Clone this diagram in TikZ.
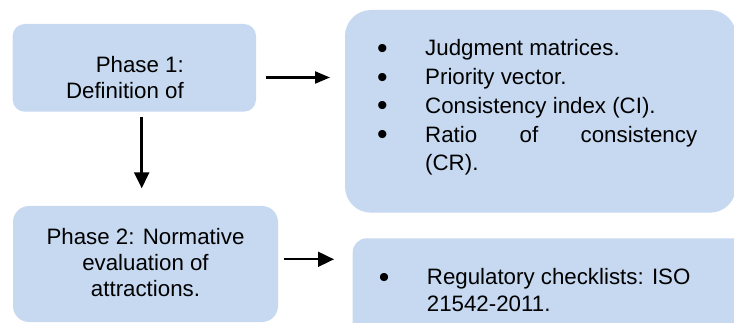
\documentclass[tikz,border=0pt]{standalone}
\usepackage{xcolor}
\usepackage{fontspec}
\usepackage{tikz}
\usetikzlibrary{arrows.meta}
\setmainfont{Liberation Sans}

\definecolor{azulclaro}{RGB}{198,217,241}
\newcommand{\marcador}{\makebox[0pt]{\raisebox{-2.6pt}{\scalebox{1.35}{\textbullet}}}\hspace{42.7pt}}

\begin{document}
\begin{tikzpicture}[x=1pt, y=-1pt,
    caixa/.style={fill=azulclaro, draw=none, inner sep=0pt},
    texto/.style={inner sep=0pt, font=\fontsize{22.3}{26.3}\selectfont},
    seta/.style={-{Triangle[length=15pt,width=12pt]}, line width=2.2pt}]

    % Area do desenho
    \clip (0,0) rectangle (734,323);

    % Caixas das fases
    \node[caixa, minimum width=243.3pt, minimum height=87.7pt, rounded corners=12pt] (fase1) at (134.35,67.85) {};
    \node[caixa, minimum width=265pt, minimum height=116pt, rounded corners=16pt] (fase2) at (145.5,264) {};

    % Caixas dos resultados
    \node[caixa, minimum width=391pt, minimum height=202.7pt, rounded corners=26pt] (saida1) at (540.5,111.35) {};
    \node[caixa, minimum width=407.3pt, minimum height=101.7pt, rounded corners=14pt] (saida2) at (556.35,289.15) {};

    % Textos das fases
    \node[texto, anchor=base east] (fase1txt) at (184,72.3)
        {\begin{tabular}[t]{@{}r@{}}Phase 1:\\Definition of\end{tabular}};
    \node[texto, anchor=base] (fase2txt) at (145.5,244.3)
        {\begin{tabular}[t]{@{}c@{}}Phase 2: Normative\\evaluation of\\attractions.\end{tabular}};

    % Lista da fase 1
    \node[texto, anchor=base west] (lista1) at (382.3,56) {\parbox[t]{314.7pt}{%
        \fontsize{22.3}{28.7}\selectfont
        \marcador Judgment matrices.\par
        \marcador Priority vector.\par
        \marcador Consistency index (CI).\par
        \hangindent=42.7pt\hangafter=1
        \marcador Ratio\hfill of\hfill consistency\newline (CR).}};

    % Lista da fase 2
    \node[texto, anchor=base west] (lista2) at (384,285) {\parbox[t]{340pt}{%
        \fontsize{22.3}{26.7}\selectfont
        \hangindent=42.7pt\hangafter=1
        \marcador Regulatory checklists: ISO\newline 21542-2011.}};

    % Setas
    \coordinate (s1a) at (266,77.5);
    \coordinate (s1b) at (330,77.5);
    \coordinate (s2a) at (141.7,116.7);
    \coordinate (s2b) at (141.7,188.3);
    \coordinate (s3a) at (284,259.3);
    \coordinate (s3b) at (334,259.3);

    \draw[seta] (s1a) -- (s1b);
    \draw[seta, line width=2.5pt, -{Triangle[length=16pt,width=15pt]}] (s2a) -- (s2b);
    \draw[seta, line width=1.8pt, -{Triangle[length=16pt,width=15pt]}] (s3a) -- (s3b);

\end{tikzpicture}
\end{document}
